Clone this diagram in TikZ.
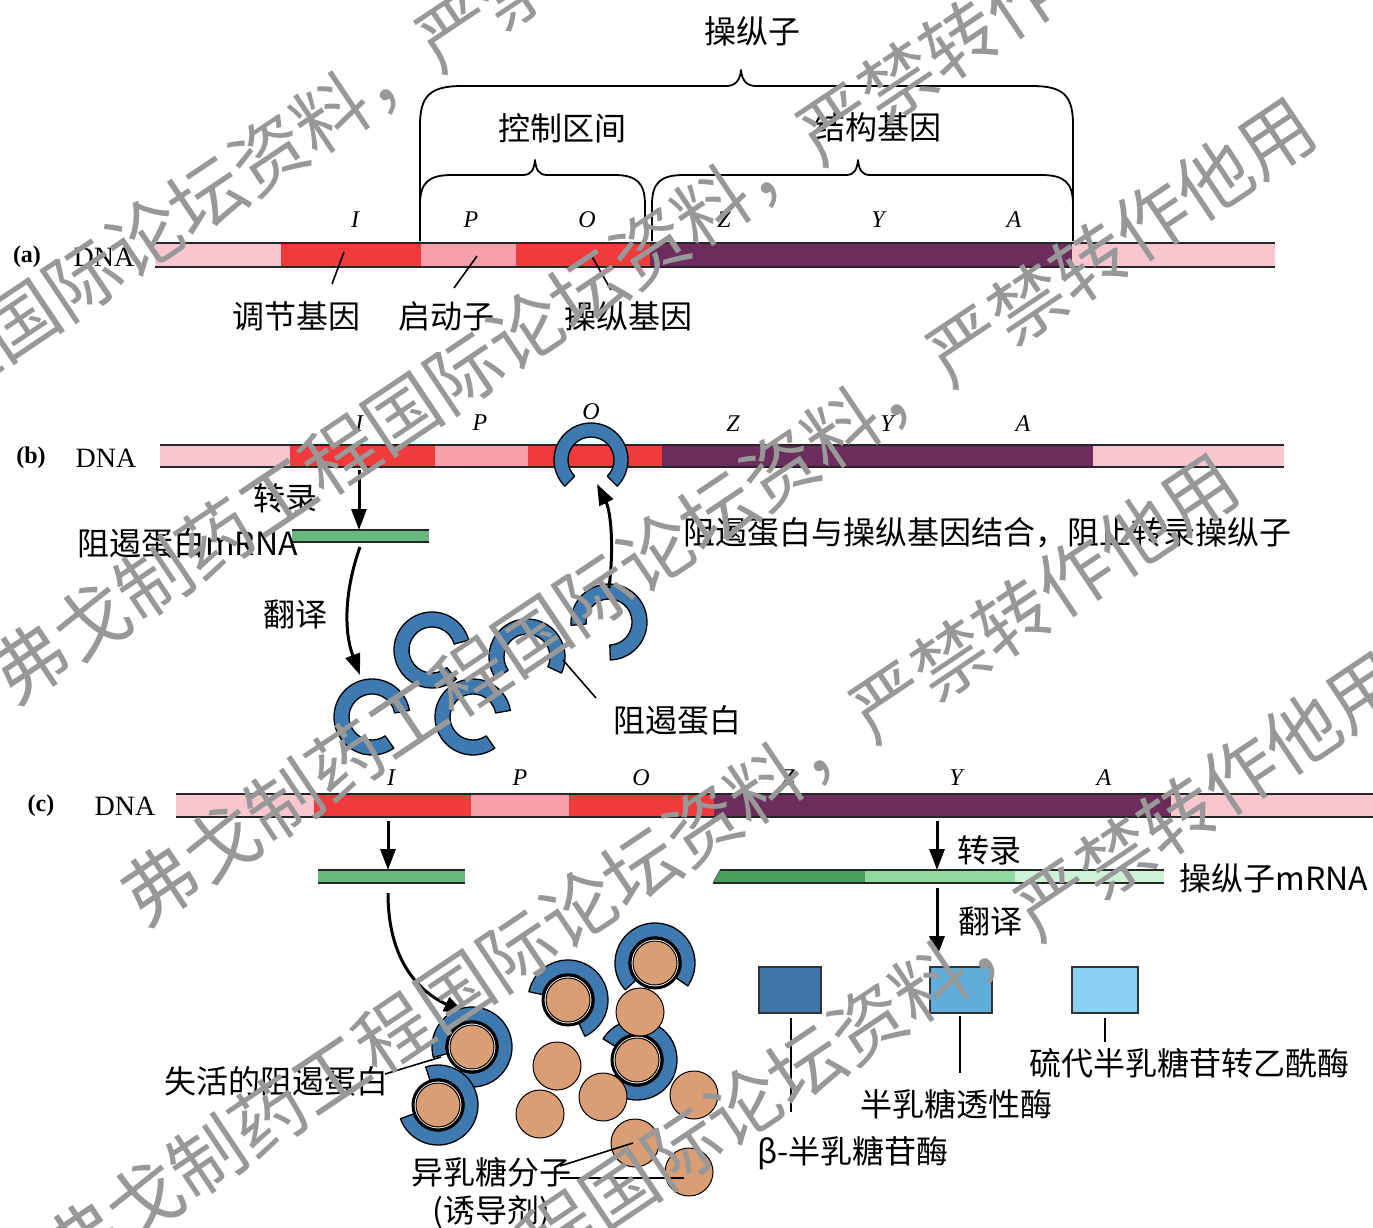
\documentclass[tikz,border=0pt]{standalone}
\usepackage{fontspec}
\setmainfont{Noto Sans CJK SC}
\newfontfamily\tnr{Liberation Serif}
\usetikzlibrary{arrows.meta,calc}

\definecolor{pinkL}{RGB}{248,198,206}
\definecolor{redD}{RGB}{240,58,60}
\definecolor{pinkM}{RGB}{245,160,170}
\definecolor{purp}{RGB}{108,44,92}
\definecolor{repblue}{RGB}{62,122,175}
\definecolor{sugarc}{RGB}{217,158,115}
\definecolor{mgreen}{RGB}{104,182,128}
\definecolor{gDark}{RGB}{72,160,92}
\definecolor{gMid}{RGB}{145,216,163}
\definecolor{gLight}{RGB}{205,242,214}
\definecolor{sqA}{RGB}{62,118,172}
\definecolor{sqB}{RGB}{96,172,218}
\definecolor{sqC}{RGB}{138,208,242}
\definecolor{wmgray}{RGB}{152,152,152}

% free repressor: centre x, centre y, solid arc from #3 to #4 (ccw)
\newcommand\freerep[4]{%
  \draw[ringst] ([shift={(#3:38pt)}]#1,#2) arc[start angle=#3,end angle=#4,radius=38pt]
    -- ([shift={(#4:23pt)}]#1,#2) arc[start angle=#4,end angle=#3,radius=23pt] -- cycle;}
% repressor carrying an inducer molecule
\newcommand\boundrep[4]{%
  \draw[ringst] ([shift={(#3:40pt)}]#1,#2) arc[start angle=#3,end angle=#4,radius=40pt]
    -- ([shift={(#4:26pt)}]#1,#2) arc[start angle=#4,end angle=#3,radius=26pt] -- cycle;
  \draw[line width=3pt,fill=white] (#1,#2) circle[radius=25pt];
  \draw[line width=1pt,fill=sugarc] (#1,#2) circle[radius=22pt];}
% free inducer molecule
\newcommand\lig[2]{\draw[line width=1pt,fill=sugarc] (#1,#2) circle[radius=24pt];}

\begin{document}
\begin{tikzpicture}[x=1pt,y=-1pt,
  lab/.style={font=\fontsize{32}{38}\selectfont, inner sep=0pt},
  gene/.style={font=\tnr\itshape\fontsize{24}{27}\selectfont, inner sep=0pt},
  panel/.style={font=\tnr\bfseries\fontsize{24}{28}\selectfont, inner sep=0pt},
  dnalab/.style={font=\tnr\fontsize{28}{32}\selectfont, inner sep=0pt},
  brace/.style={line width=1.8pt, line join=round},
  arr/.style={line width=3pt, -{Triangle[length=21pt,width=15pt]}},
  ptr/.style={line width=1.6pt},
  barline/.style={line width=1.4pt, draw=black!85},
  ringst/.style={fill=repblue, draw=black, line width=1.3pt, line join=round},
  sq/.style={draw=black!80, line width=1.4pt},
  wm/.style={font=\fontsize{74.6}{80}\selectfont, text=wmgray, rotate=33.8, anchor=west, inner sep=0pt},
]
\useasboundingbox (0,0) rectangle (1373,1228);
\fill[white] (0,0) rectangle (1373,1228);

%================ (a) =================
% braces
\draw[brace] (420,241) -- (420,125) .. controls (420,96) and (430,86) .. (462,86)
  -- (726,86) .. controls (735,86) and (740,81) .. (741,70) .. controls (742,81) and (747,86) .. (756,86)
  -- (1032,86) .. controls (1064,86) and (1073,96) .. (1073,125) -- (1073,241);
\draw[brace] (420,241) -- (420,205) .. controls (420,183) and (428,175) .. (452,175)
  -- (523,175) .. controls (531,175) and (534,170) .. (535,160) .. controls (536,170) and (539,175) .. (547,175)
  -- (614,175) .. controls (637,175) and (645,183) .. (645,205) -- (645,241);
\draw[brace] (652,241) -- (652,205) .. controls (652,183) and (660,175) .. (684,175)
  -- (846,175) .. controls (854,175) and (857,170) .. (858,160) .. controls (859,170) and (862,175) .. (870,175)
  -- (1041,175) .. controls (1065,175) and (1073,183) .. (1073,205);
\node[lab] (opn) at (752,31) {操纵子};
\node[lab] (ctrl) at (562,128) {控制区间};
\node[lab] (strc) at (877,127) {结构基因};

% DNA bar
\fill[pinkL] (155,243) rectangle (281,267);
\fill[redD]  (281,243) rectangle (421,267);
\fill[pinkM] (421,243) rectangle (516,267);
\fill[redD]  (516,243) rectangle (650,267);
\fill[purp]  (650,243) rectangle (1072,267);
\fill[pinkL] (1072,243) rectangle (1275,267);
\draw[barline] (155,243) -- (1275,243);
\draw[barline] (155,267) -- (1275,267);
\node[panel] (pa) at (27,257) {(a)};
\node[dnalab] (dnaa) at (104,257) {DNA};
\foreach \g/\x in {I/355,P/471,O/587,Z/724,Y/878,A/1014}
  \node[gene] (a\g) at (\x,220) {\g};

\node[lab] (reg) at (296,316) {调节基因};
\node[lab] (prom) at (446,316) {启动子};
\node[lab] (oper) at (628,316) {操纵基因};
\coordinate (aIp) at (344,252);  \coordinate (aIq) at (332,284);
\coordinate (aPp) at (477,256);  \coordinate (aPq) at (454,288);
\coordinate (aOp) at (590,253);  \coordinate (aOq) at (611,290);
\draw[ptr] (aIp) -- (aIq);
\draw[ptr] (aPp) -- (aPq);
\draw[ptr] (aOp) -- (aOq);

%================ (b) =================
\fill[pinkL] (160,445) rectangle (290,467);
\fill[redD]  (290,445) rectangle (435,467);
\fill[pinkM] (435,445) rectangle (528,467);
\fill[redD]  (528,445) rectangle (662,467);
\fill[purp]  (662,445) rectangle (1093,467);
\fill[pinkL] (1093,445) rectangle (1284,467);
\draw[barline] (160,445) -- (1284,445);
\draw[barline] (160,467) -- (1284,467);
\node[panel] (pb) at (31,458) {(b)};
\node[dnalab] (dnab) at (106,458) {DNA};
\foreach \g/\x/\y in {I/359/424,P/480/423,O/591/412,Z/733/424,Y/887/424,A/1023/424}
  \node[gene] (b\g) at (\x,\y) {\g};

% repressor sitting on the operator
\draw[ringst] ([shift={(-45:37pt)}]591,460) arc[start angle=-45,end angle=225,radius=37pt]
  -- ([shift={(225:23pt)}]591,460) arc[start angle=225,end angle=-45,radius=23pt] -- cycle;

% repressor mRNA
\fill[mgreen] (292,530) rectangle (429,542);
\draw[barline] (292,530) -- (429,530);
\draw[barline] (292,542) -- (429,542);
\coordinate (bTrS) at (359,470); \coordinate (bTrE) at (359,530);
\draw[arr] (bTrS) -- (bTrE);
\node[lab] (btr) at (285,498) {转录};
\node[lab, anchor=east] (bmrna) at (298,543) {阻遏蛋白mRNA};

% translation to free repressors
\coordinate (bTlS) at (360,547); \coordinate (bTlE) at (360,675);
\draw[arr] (bTlS) .. controls (344,592) and (344,632) .. (bTlE);
\node[lab] (btl) at (295,614) {翻译};

\freerep{372}{717}{10}{305}
\freerep{432}{650}{15}{310}
\freerep{473}{717}{10}{305}
\freerep{527}{657}{-25}{215}
\freerep{609}{622}{-88}{185}

% repressor binding back to the operator
\coordinate (bBdS) at (609,588); \coordinate (bBdE) at (597,484);
\draw[arr] (bBdS) .. controls (614,548) and (611,512) .. (bBdE);
\node[lab] (bbind) at (987,533) {阻遏蛋白与操纵基因结合，阻止转录操纵子};

\node[lab] (brep) at (677,720) {阻遏蛋白};
\coordinate (bRpS) at (563,660); \coordinate (bRpE) at (596,698);
\draw[ptr] (bRpS) -- (bRpE);

%================ (c) =================
\fill[pinkL] (176,794) rectangle (314,817);
\fill[redD]  (314,794) rectangle (471,817);
\fill[pinkM] (471,794) rectangle (569,817);
\fill[redD]  (569,794) rectangle (714,817);
\fill[purp]  (714,794) rectangle (1171,817);
\fill[pinkL] (1171,794) rectangle (1373,817);
\draw[barline] (176,794) -- (1373,794);
\draw[barline] (176,817) -- (1373,817);
\node[panel] (pc) at (41,806) {(c)};
\node[dnalab] (dnac) at (125,806) {DNA};
\foreach \g/\x in {I/391,P/520,O/641,Z/788,Y/956,A/1104}
  \node[gene] (c\g) at (\x,778) {\g};

% repressor gene still transcribed
\coordinate (cTrS) at (388,821); \coordinate (cTrE) at (388,870);
\draw[arr] (cTrS) -- (cTrE);
\fill[mgreen] (318,870) rectangle (465,883);
\draw[barline] (318,870) -- (465,870);
\draw[barline] (318,883) -- (465,883);
\coordinate (cTlS) at (388,893); \coordinate (cTlE) at (465,1013);
\draw[arr] (cTlS) .. controls (388,962) and (420,992) .. (cTlE);

% operon transcribed and translated
\coordinate (cOpS) at (937,821); \coordinate (cOpE) at (937,870);
\draw[arr] (cOpS) -- (cOpE);
\node[lab] (ctr) at (989,850) {转录};
\fill[gDark]  (713,883) -- (720,870) -- (865,870) -- (865,883) -- cycle;
\fill[gMid]   (865,870) rectangle (1015,883);
\fill[gLight] (1015,870) rectangle (1164,883);
\draw[barline] (720,870) -- (1164,870);
\draw[barline] (713,883) -- (1164,883);
\draw[line width=1pt, draw=black!60] (713,883) -- (720,870);
\node[lab] (cmrna) at (1274,878) {操纵子mRNA};
\coordinate (cEnS) at (937,888); \coordinate (cEnE) at (937,957);
\draw[arr] (cEnS) -- (cEnE);
\node[lab] (ctl) at (990,921) {翻译};

% the three enzymes
\node[sq, fill=sqA, minimum width=62pt, minimum height=46pt, inner sep=0pt] (galZ) at (790,990) {};
\node[sq, fill=sqB, minimum width=62pt, minimum height=46pt, inner sep=0pt] (galY) at (961,990) {};
\node[sq, fill=sqC, minimum width=66pt, minimum height=46pt, inner sep=0pt] (galA) at (1105,990) {};
\node[lab] (enzA) at (1189,1063) {硫代半乳糖苷转乙酰酶};
\node[lab] (enzY) at (956,1104) {半乳糖透性酶};
\node[lab] (enzZ) at (853,1153) {β-半乳糖苷酶};
\coordinate (zL1) at (791,1018); \coordinate (zL2) at (791,1112);
\coordinate (yL1) at (960,1016); \coordinate (yL2) at (960,1073);
\coordinate (aL1) at (1105,1018); \coordinate (aL2) at (1105,1042);
\draw[ptr] (zL1) -- (zL2);
\draw[ptr] (yL1) -- (yL2);
\draw[ptr] (aL1) -- (aL2);

% inactivated repressors and inducer
\boundrep{472}{1047}{245}{555}
\boundrep{568}{1000}{-65}{168}
\boundrep{655}{963}{-35}{222}
\boundrep{637}{1060}{215}{508}
\boundrep{438}{1105}{200}{468}
\lig{640}{1012}
\lig{557}{1066}
\lig{540}{1114}
\lig{603}{1097}
\lig{694}{1095}
\lig{635}{1143}
\lig{689}{1172}

\node[lab] (inact) at (276,1081) {失活的阻遏蛋白};
\coordinate (inS) at (385,1074); \coordinate (inE) at (441,1057);
\draw[ptr] (inS) -- (inE);
\node[lab] (indu) at (491,1172) {异乳糖分子};
\node[lab] (indu2) at (491,1212) {(诱导剂)};
\coordinate (iS1) at (560,1166); \coordinate (iE1) at (633,1143);
\coordinate (iS2) at (560,1178); \coordinate (iE2) at (684,1178);
\draw[ptr] (iS1) -- (iE1);
\draw[ptr] (iS2) -- (iE2);

%================ watermark =================
\foreach \sx/\sy [count=\k] in {-382/591, -1/684, 129/906, 52/1262, 217/1460}
  \node[wm] (wm\k) at (\sx,\sy) {弗戈制药工程国际论坛资料，严禁转作他用};
\end{tikzpicture}
\end{document}
